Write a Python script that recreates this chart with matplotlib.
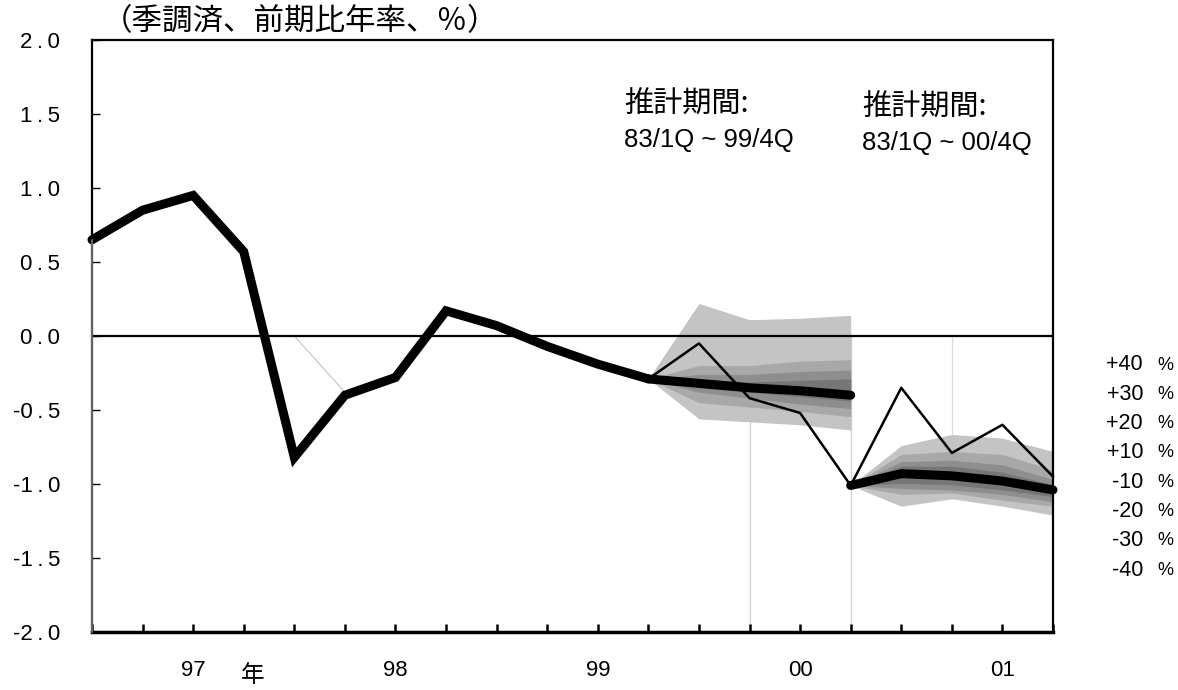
import matplotlib
matplotlib.use("Agg")
import matplotlib.pyplot as plt
import numpy as np

# ---------------- data ----------------
quarters = list(range(20))                      # quarterly positions
year_tick_pos = [2, 6, 10, 14, 18]
year_labels = ["97", "98", "99", "00", "01"]

# realised / history (thick)
hist_x = list(range(12))
hist_y = [0.65, 0.85, 0.95, 0.57, -0.82, -0.40, -0.28, 0.17, 0.07, -0.07, -0.19, -0.29]

# actual outcome in forecast periods (thin)
act_x = [11, 12, 13, 14, 15, 16, 17, 18, 19]
act_y = [-0.29, -0.05, -0.42, -0.52, -1.01, -0.35, -0.79, -0.60, -0.95]

# fan 1 (estimation 83/1Q-99/4Q)
f1_x = [11, 12, 13, 14, 15]
f1_med = [-0.29, -0.32, -0.35, -0.37, -0.40]
f1_u40 = [-0.29, 0.22, 0.11, 0.12, 0.14]
f1_u30 = [-0.29, -0.20, -0.20, -0.17, -0.16]
f1_u20 = [-0.29, -0.26, -0.26, -0.24, -0.23]
f1_u10 = [-0.29, -0.29, -0.31, -0.30, -0.29]
f1_l10 = [-0.29, -0.35, -0.38, -0.41, -0.44]
f1_l20 = [-0.29, -0.38, -0.42, -0.46, -0.49]
f1_l30 = [-0.29, -0.45, -0.48, -0.51, -0.545]
f1_l40 = [-0.29, -0.56, -0.58, -0.60, -0.635]

# fan 2 (estimation 83/1Q-00/4Q)
f2_x = [15, 16, 17, 18, 19]
f2_med = [-1.01, -0.93, -0.945, -0.98, -1.04]
f2_u40 = [-1.01, -0.74, -0.665, -0.69, -0.78]
f2_u30 = [-1.01, -0.80, -0.78, -0.80, -0.905]
f2_u20 = [-1.01, -0.85, -0.84, -0.87, -0.97]
f2_u10 = [-1.01, -0.88, -0.88, -0.92, -1.005]
f2_l10 = [-1.01, -0.995, -1.005, -1.04, -1.085]
f2_l20 = [-1.01, -1.03, -1.04, -1.07, -1.12]
f2_l30 = [-1.01, -1.07, -1.06, -1.11, -1.15]
f2_l40 = [-1.01, -1.15, -1.10, -1.15, -1.21]

band_labels = ["+40 %", "+30 %", "+20 %", "+10 %", "-10 %", "-20 %", "-30 %", "-40 %"]
y_ticks = [2.0, 1.5, 1.0, 0.5, 0.0, -0.5, -1.0, -1.5, -2.0]

# ---------------- figure ----------------
W, H = 1178, 690
fig = plt.figure(figsize=(W / 100, H / 100), dpi=100)
ax = fig.add_axes([92 / W, 1 - 632 / H, (1053 - 92) / W, (632 - 40) / H])

CJK = ["Noto Sans CJK JP", "DejaVu Sans"]
NUM = ["Liberation Sans", "DejaVu Sans"]

c40, c30, c20, c10 = "#c4c4c4", "#a8a8a8", "#8e8e8e", "#767676"

# faint artifact lines
ax.plot([4, 5], [0.0, -0.38], color="#b0b0b0", lw=0.6, zorder=1)
ax.plot([13, 13], [-0.58, -2.0], color="#cfcfcf", lw=0.9, zorder=1)
ax.plot([15, 15], [0.0, -2.0], color="#cfcfcf", lw=0.9, zorder=1)
ax.plot([17, 17], [0.0, -0.66], color="#dcdcdc", lw=0.9, zorder=1)

def fan(x, u40, u30, u20, u10, l10, l20, l30, l40):
    ax.fill_between(x, l40, u40, color=c40, lw=0, zorder=2)
    ax.fill_between(x, l30, u30, color=c30, lw=0, zorder=2)
    ax.fill_between(x, l20, u20, color=c20, lw=0, zorder=2)
    ax.fill_between(x, l10, u10, color=c10, lw=0, zorder=2)

fan(f1_x, f1_u40, f1_u30, f1_u20, f1_u10, f1_l10, f1_l20, f1_l30, f1_l40)
fan(f2_x, f2_u40, f2_u30, f2_u20, f2_u10, f2_l10, f2_l20, f2_l30, f2_l40)

ax.axhline(0, color="black", lw=1.6, zorder=3)

ax.plot(hist_x, hist_y, color="black", lw=6.5, solid_capstyle="round",
        solid_joinstyle="miter", zorder=5, clip_on=False)
ax.plot(f1_x, f1_med, color="black", lw=6.5, solid_capstyle="round", zorder=5)
ax.plot(f2_x, f2_med, color="black", lw=6.5, solid_capstyle="round", zorder=5, clip_on=False)
ax.plot(act_x, act_y, color="black", lw=1.8, zorder=4, clip_on=False)

ax.set_xlim(0, 19)
ax.set_ylim(-2.0, 2.0)

xlabels = [""] * len(quarters)
for p, lab in zip(year_tick_pos, year_labels):
    xlabels[p] = lab
ax.set_xticks(quarters)
ax.set_xticklabels(xlabels, fontfamily=NUM, fontsize=16)
ax.tick_params(axis="x", which="major", direction="in", length=6, width=1.8, pad=20)

ax.set_yticks(y_ticks)
ax.set_yticklabels([f"{v:.1f}".replace(".", "\u2009.\u2009") for v in y_ticks],
                   fontfamily=NUM, fontsize=16)
ax.tick_params(axis="y", direction="in", length=6, width=1.0, pad=23)

for s in ["top", "right"]:
    ax.spines[s].set_linewidth(1.6)
ax.spines["bottom"].set_linewidth(2.5)
ax.spines["left"].set_linewidth(1.6)
# grey overlay on lower part of left spine
ax.plot([0, 0], [0.65, -2.0], color="#777777", lw=1.2, zorder=6, clip_on=False)

def ftext(px, py, s, **kw):
    fig.text(px / W, 1 - py / H, s, **kw)

ftext(102, 22, "（季調済、前期比年率、％）", family=CJK, fontsize=22, va="center", ha="left")
ftext(253, 676, "年", family=CJK, fontsize=17, va="center", ha="center")

ftext(624, 105, "推計期間:", family=CJK, fontsize=21, va="center", ha="left")
ftext(624, 140, "83/1Q ~ 99/4Q", family=NUM, fontsize=18.5, va="center", ha="left")
ftext(862, 108, "推計期間:", family=CJK, fontsize=21, va="center", ha="left")
ftext(862, 143, "83/1Q ~ 00/4Q", family=NUM, fontsize=18.5, va="center", ha="left")

for k, lab in enumerate(band_labels):
    num, pct = lab.split(" ")
    yy = 365 + k * 29.3
    ftext(1143, yy, num, family=NUM, fontsize=15.5, va="center", ha="right")
    ftext(1157, yy, pct, family=NUM, fontsize=13, va="center", ha="left")

fig.savefig("out.png", dpi=100)
